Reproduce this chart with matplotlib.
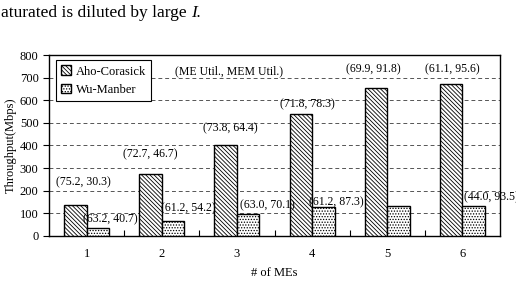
import matplotlib
matplotlib.use("Agg")
import matplotlib.pyplot as plt
import numpy as np

# data
num_mes = [1, 2, 3, 4, 5, 6]
aho_corasick = [137, 273, 401, 541, 652, 670]
wu_manber = [35, 66, 97, 128, 132, 132]
aho_labels = ["(75.2, 30.3)", "(72.7, 46.7)", "(73.8, 64.4)",
              "(71.8, 78.3)", "(69.9, 91.8)", "(61.1, 95.6)"]
wu_labels = ["(63.2, 40.7)", "(61.2, 54.2)", "(63.0, 70.1)",
             "(61.2, 87.3)", "", "(44.0, 93.5)"]

# label offsets from bar tops (points)
aho_off = [(6, 16), (0, 14), (3, 12), (5, 7), (-2, 14), (1, 11)]
wu_off = [(9, 6), (11, 9), (14, 6), (9, 3), (0, 0), (13, 6)]

plt.rcParams['font.family'] = ['Liberation Serif', 'DejaVu Serif']
plt.rcParams['hatch.linewidth'] = 0.6

fig = plt.figure(figsize=(5.16, 2.88), dpi=100)
ax = fig.add_axes([0.095, 0.181, 0.874, 0.628])

x = np.array(num_mes)
w = 0.3
b1 = ax.bar(x - w / 2, aho_corasick, w, color='white', edgecolor='black',
            hatch='\\' * 8, linewidth=1.0, label='Aho-Corasick', zorder=3)
b2 = ax.bar(x + w / 2, wu_manber, w, color='white', edgecolor='black',
            hatch='......', linewidth=1.0, label='Wu-Manber', zorder=3)

for i in range(len(num_mes)):
    ax.annotate(aho_labels[i], (x[i] - w / 2, aho_corasick[i]),
                xytext=aho_off[i], textcoords='offset points',
                ha='center', va='center', fontsize=8.5, zorder=4)
    if wu_labels[i]:
        ax.annotate(wu_labels[i], (x[i] + w / 2, wu_manber[i]),
                    xytext=wu_off[i], textcoords='offset points',
                    ha='center', va='center', fontsize=8.5, zorder=4,
                    annotation_clip=False)

ax.text(2.9, 730, "(ME Util., MEM Util.)", ha='center', va='center',
        fontsize=8.5)

ax.set_xlim(0.5, 6.5)
ax.set_ylim(0, 800)
ax.set_yticks(range(0, 801, 100))
ax.set_xticks(num_mes)
ax.set_xticks(np.arange(1.5, 6, 1), minor=True)
ax.tick_params(axis='x', which='major', length=0, pad=9, labelsize=9)
ax.tick_params(axis='x', which='minor', direction='in', length=4, width=0.8)
ax.tick_params(axis='y', direction='out', length=4, width=0.8, labelsize=9)
ax.yaxis.grid(True, linestyle=(0, (4, 3)), color='#555555', linewidth=0.7)
ax.set_axisbelow(True)
for s in ax.spines.values():
    s.set_linewidth(1.0)

ax.set_ylabel("Throughput(Mbps)", fontsize=9, labelpad=2)
ax.set_xlabel("# of MEs", fontsize=9, labelpad=5)

leg = ax.legend(loc='upper left', bbox_to_anchor=(0.015, 0.97),
                borderaxespad=0, fontsize=9, fancybox=False,
                edgecolor='black', framealpha=1, handlelength=0.8,
                handleheight=0.8, handletextpad=0.4, borderpad=0.4,
                labelspacing=0.5)
leg.get_frame().set_linewidth(0.8)

# cropped caption text above the chart
t = fig.text(0.002, 0.955, "aturated is diluted by large ", fontsize=12.5,
             va='center', ha='left')
fig.canvas.draw()
bb = t.get_window_extent().transformed(fig.transFigure.inverted())
fig.text(bb.x1, 0.955, "I.", fontsize=12.5, style='italic', va='center',
         ha='left')

fig.savefig("out.png", dpi=100)
